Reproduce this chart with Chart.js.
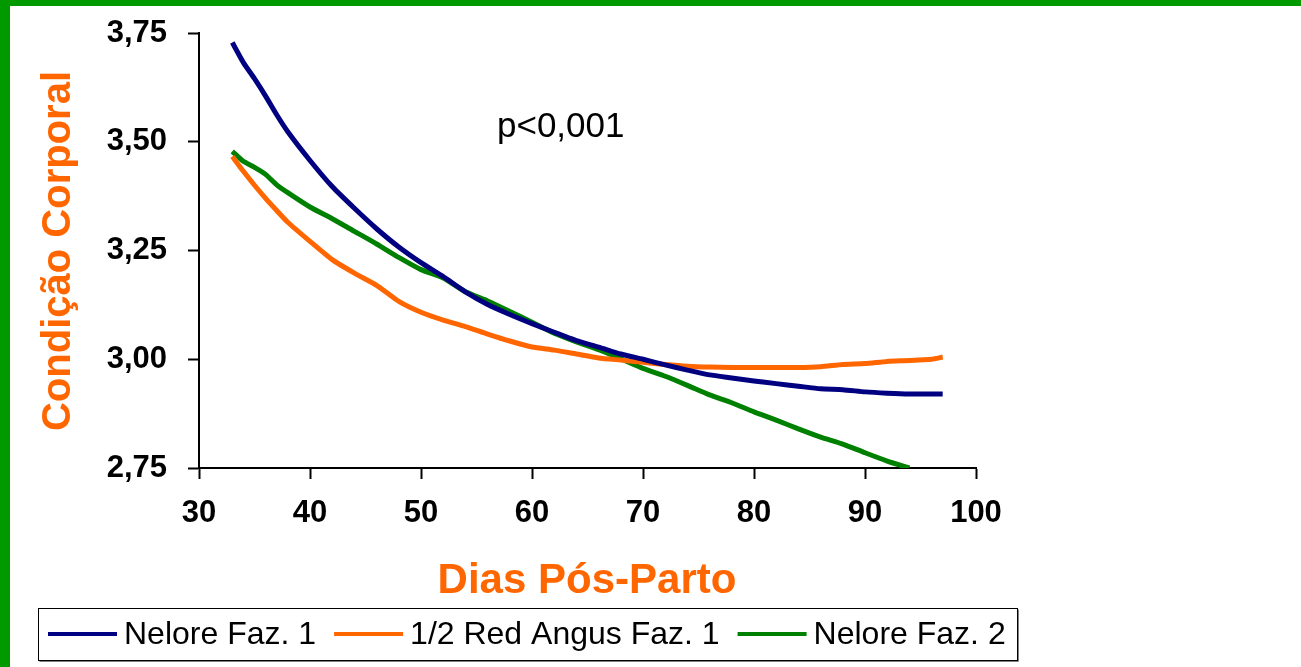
<!DOCTYPE html>
<html>
<head>
<meta charset="utf-8">
<title>Condição Corporal x Dias Pós-Parto</title>
<script src="https://cdn.jsdelivr.net/npm/chart.js@4.4.1/dist/chart.umd.min.js"></script>
<style>
	html, body { margin: 0; padding: 0; background: #fff; }
	#chart { display: block; }
</style>
</head>
<body>
<canvas id="chart" width="1301" height="667"></canvas>
<script>
	'use strict';

	// Dias pós-parto (eixo x)
	const days = [33, 34, 35, 36, 37, 38, 40, 42, 44, 46, 48, 50, 52, 54, 56, 58, 60, 62, 64, 66,
		68, 70, 72, 74, 76, 78, 80, 82, 84, 86, 88, 90, 92, 94, 96, 97];

	const seriesNames = ['Nelore Faz. 1', '1/2 Red Angus Faz. 1', 'Nelore Faz. 2'];
	const seriesColors = ['#000080', '#FF6600', '#008000'];

	const neloreFaz1 = [3.728, 3.682, 3.645, 3.605, 3.562, 3.523, 3.457, 3.397, 3.347, 3.300,
		3.258, 3.222, 3.190, 3.155, 3.126, 3.103, 3.082, 3.062, 3.043, 3.028,
		3.012, 3.000, 2.987, 2.975, 2.964, 2.957, 2.950, 2.944, 2.938, 2.932,
		2.930, 2.925, 2.922, 2.920, 2.920, 2.920];

	const redAngusFaz1 = [3.466, 3.432, 3.400, 3.370, 3.342, 3.315, 3.271, 3.229, 3.198, 3.170,
		3.133, 3.108, 3.090, 3.075, 3.058, 3.042, 3.028, 3.021, 3.012, 3.003,
		2.998, 2.993, 2.988, 2.984, 2.982, 2.981, 2.981, 2.981, 2.981, 2.983,
		2.988, 2.990, 2.995, 2.997, 3.000, 3.005];

	const neloreFaz2 = [3.478, 3.455, 3.441, 3.425, 3.401, 3.383, 3.350, 3.323, 3.294, 3.265,
		3.234, 3.206, 3.187, 3.155, 3.134, 3.110, 3.085, 3.060, 3.040, 3.022,
		3.001, 2.979, 2.961, 2.940, 2.918, 2.900, 2.879, 2.860, 2.840, 2.821,
		2.805, 2.785, 2.766, 2.750, null, null];

	const xTicks = [30, 40, 50, 60, 70, 80, 90, 100];
	const yTicks = [2.75, 3.00, 3.25, 3.50, 3.75];

	const FONT = 'Arial, "Liberation Sans", sans-serif';
	const ORANGE = '#FF6600';

	function toPoints(values) {
		return days
			.map((d, i) => ({ x: d, y: values[i] }))
			.filter(p => p.y !== null);
	}

	// moldura verde, rótulos dos eixos, texto p e legenda com caixa
	const decorations = {
		id: 'decorations',
		beforeDraw(chart) {
			const ctx = chart.ctx;
			ctx.save();
			ctx.fillStyle = '#fff';
			ctx.fillRect(0, 0, chart.width, chart.height);
			ctx.fillStyle = '#009900';
			ctx.fillRect(0, 0, chart.width, 6);
			ctx.fillRect(0, 0, 10, chart.height);
			ctx.restore();
		},
		afterDraw(chart) {
			const ctx = chart.ctx;
			ctx.save();

			// texto de significância
			ctx.fillStyle = '#000';
			ctx.font = '35px ' + FONT;
			ctx.textAlign = 'left';
			ctx.textBaseline = 'alphabetic';
			ctx.fillText('p<0,001', 497, 137);

			// título eixo x
			ctx.fillStyle = ORANGE;
			ctx.font = 'bold 42px ' + FONT;
			ctx.textAlign = 'center';
			ctx.fillText('Dias Pós-Parto', 587, 593);

			// título eixo y
			ctx.save();
			ctx.translate(70, 251);
			ctx.rotate(-Math.PI / 2);
			ctx.font = 'bold 40px ' + FONT;
			ctx.fillText('Condição Corporal', 0, 0);
			ctx.restore();

			// legenda
			ctx.fillStyle = '#fff';
			ctx.fillRect(38, 608, 980, 53);
			ctx.strokeStyle = '#808080';
			ctx.lineWidth = 1;
			ctx.beginPath();
			ctx.moveTo(39.5, 661.5);
			ctx.lineTo(1018.5, 661.5);
			ctx.lineTo(1018.5, 609.5);
			ctx.stroke();
			ctx.strokeStyle = '#000';
			ctx.strokeRect(38.5, 608.5, 979, 52);

			ctx.font = '32px ' + FONT;
			ctx.textAlign = 'left';
			ctx.textBaseline = 'middle';
			let x = 48;
			const y = 634;
			chart.data.datasets.forEach(ds => {
				ctx.strokeStyle = ds.borderColor;
				ctx.lineWidth = 4;
				ctx.beginPath();
				ctx.moveTo(x, y);
				ctx.lineTo(x + 69, y);
				ctx.stroke();
				ctx.fillStyle = '#000';
				ctx.fillText(ds.label, x + 76, y + 1);
				x += 76 + ctx.measureText(ds.label).width + 18;
			});

			ctx.restore();
		}
	};

	const tickFont = { family: FONT, size: 31, weight: 'bold' };

	new Chart(document.getElementById('chart'), {
		type: 'line',
		data: {
			datasets: [neloreFaz1, redAngusFaz1, neloreFaz2].map((vals, i) => ({
				label: seriesNames[i],
				data: toPoints(vals),
				borderColor: seriesColors[i],
				backgroundColor: seriesColors[i],
				borderWidth: 5,
				pointRadius: 0,
				tension: 0.2,
				fill: false
			}))
		},
		options: {
			responsive: false,
			animation: false,
			layout: { padding: { left: 0, top: 33, right: 325, bottom: 0 } },
			plugins: {
				legend: { display: false },
				tooltip: { enabled: false }
			},
			scales: {
				x: {
					type: 'linear',
					min: 30,
					max: 100,
					afterFit: scale => {
						scale.height = 199;
						scale.paddingLeft = 0;
						scale.paddingRight = 0;
					},
					afterBuildTicks: scale => { scale.ticks = xTicks.map(v => ({ value: v })); },
					grid: { drawOnChartArea: false, drawTicks: true, tickLength: 11, tickColor: '#000', tickWidth: 2 },
					border: { display: true, color: '#000', width: 2 },
					ticks: { color: '#000', font: tickFont, padding: 16, maxRotation: 0 }
				},
				y: {
					type: 'linear',
					min: 2.75,
					max: 3.75,
					afterFit: scale => {
						scale.width = 199;
						scale.paddingTop = 0;
						scale.paddingBottom = 0;
					},
					afterBuildTicks: scale => { scale.ticks = yTicks.map(v => ({ value: v })); },
					grid: { drawOnChartArea: false, drawTicks: true, tickLength: 11, tickColor: '#000', tickWidth: 2 },
					border: { display: true, color: '#000', width: 2 },
					ticks: {
						color: '#000',
						font: tickFont,
						padding: 21,
						callback: v => v.toFixed(2).replace('.', ',')
					}
				}
			}
		},
		plugins: [decorations]
	});
</script>
</body>
</html>
